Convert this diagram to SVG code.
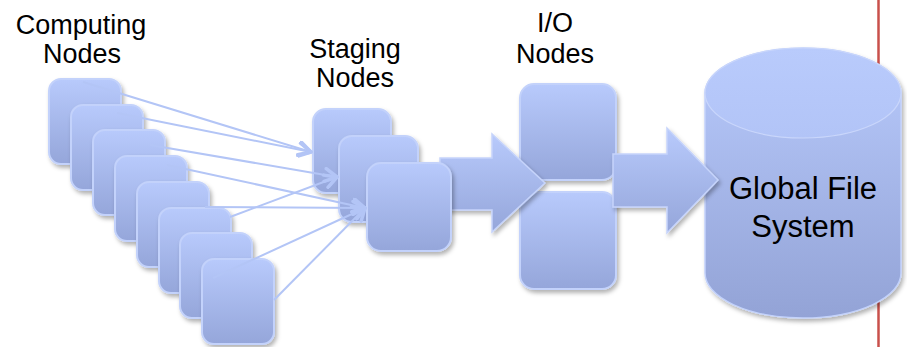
<svg xmlns="http://www.w3.org/2000/svg" width="907" height="347" viewBox="0 0 907 347">
<defs>
<linearGradient id="g" x1="0" y1="0" x2="0" y2="1">
<stop offset="0" stop-color="#b8cafc"/>
<stop offset="1" stop-color="#95a6da"/>
</linearGradient>
<linearGradient id="gc" x1="0" y1="0" x2="0" y2="1">
<stop offset="0" stop-color="#b8cafc"/>
<stop offset="1" stop-color="#93a3d6"/>
</linearGradient>
<linearGradient id="gt" x1="0" y1="0" x2="0" y2="1">
<stop offset="0" stop-color="#b9cbfc"/>
<stop offset="1" stop-color="#b2c4f7"/>
</linearGradient>
<filter id="sh" x="-20%" y="-20%" width="150%" height="150%">
<feDropShadow dx="2" dy="3" stdDeviation="2" flood-color="#000" flood-opacity="0.3"/>
</filter>
<marker id="ah" viewBox="0 0 16 16" refX="14" refY="8" markerWidth="16" markerHeight="16" orient="auto" markerUnits="userSpaceOnUse">
<path d="M2,1.5 L14,8 L2,14.5" fill="none" stroke="#b3c5f6" stroke-width="3.5" stroke-linecap="round" stroke-linejoin="round"/>
</marker>
</defs>
<style>
.box{fill:url(#g);stroke:#c3d2fb;stroke-width:2;filter:url(#sh)}
.flow{fill:url(#g);stroke:#c6d4fb;stroke-width:1.5;filter:url(#sh)}
.ln{stroke:#b3c5f6;stroke-width:2;fill:none;marker-end:url(#ah)}
.lbl{font-family:"Liberation Sans",Arial,sans-serif;font-size:27px;fill:#000;text-anchor:middle}
.big{font-family:"Liberation Sans",Arial,sans-serif;font-size:31px;fill:#000;text-anchor:middle}
</style>
<line x1="878.5" y1="0" x2="878.5" y2="347" stroke="#c9504b" stroke-width="2.5"/>
<g id="labels">
<text class="lbl" x="81" y="34">Computing</text>
<text class="lbl" x="82" y="63">Nodes</text>
<text class="lbl" x="355" y="58">Staging</text>
<text class="lbl" x="355" y="87">Nodes</text>
<text class="lbl" x="555" y="32">I/O</text>
<text class="lbl" x="555" y="63">Nodes</text>
</g>
<g id="global-file-system">
<path d="M705,93 A98,45 0 0 1 901,93 V273 A98,45 0 0 1 705,273 Z" fill="url(#gc)" stroke="#c3d2fb" stroke-width="1.5" filter="url(#sh)"/>
<ellipse cx="803" cy="93" rx="98" ry="45" fill="url(#gt)" stroke="#c9d6fb" stroke-width="1.2"/>
<text class="big" x="803" y="199">Global File</text>
<text class="big" x="803" y="237">System</text>
</g>
<g id="io-node-1"><rect class="box" x="520" y="84" width="96" height="96" rx="14"/></g>
<g id="io-node-2"><rect class="box" x="520" y="192" width="96" height="97" rx="14"/></g>
<g id="flow-arrows">
<path class="flow" d="M613,154 H667 V128 L718,180 L667,233 V207 H613 Z"/>
<path class="flow" d="M440,158 H492 V134 L545,183 L492,232 V210 H440 Z"/>
</g>
<g id="compute-1"><rect class="box" x="49" y="79" width="72" height="85" rx="12"/></g>
<g id="compute-2"><rect class="box" x="71" y="105" width="72" height="85" rx="12"/></g>
<g id="compute-3"><rect class="box" x="93" y="130" width="72" height="85" rx="12"/></g>
<g id="compute-4"><rect class="box" x="115" y="156" width="72" height="85" rx="12"/></g>
<g id="compute-5"><rect class="box" x="137" y="182" width="72" height="85" rx="12"/></g>
<g id="compute-6"><rect class="box" x="159" y="208" width="72" height="85" rx="12"/></g>
<g id="compute-7"><rect class="box" x="180" y="233" width="72" height="85" rx="12"/></g>
<g id="compute-8"><rect class="box" x="202" y="259" width="72" height="85" rx="12"/></g>
<g id="staging-1"><rect class="box" x="313" y="109" width="78" height="84" rx="13"/></g>
<g id="staging-2"><rect class="box" x="339" y="136" width="79" height="86" rx="13"/></g>
<g id="staging-3"><rect class="box" x="367" y="163" width="84" height="88" rx="14"/></g>
<g id="connectors">
<line class="ln" x1="83" y1="82" x2="311" y2="152"/>
<line class="ln" x1="117" y1="113" x2="311" y2="152"/>
<line class="ln" x1="150" y1="145" x2="337" y2="177"/>
<line class="ln" x1="167" y1="165" x2="365" y2="208"/>
<line class="ln" x1="205" y1="207" x2="365" y2="208"/>
<line class="ln" x1="230" y1="217" x2="337" y2="177"/>
<line class="ln" x1="213" y1="278" x2="365" y2="208"/>
<line class="ln" x1="274" y1="300" x2="365" y2="208"/>
</g>
</svg>
